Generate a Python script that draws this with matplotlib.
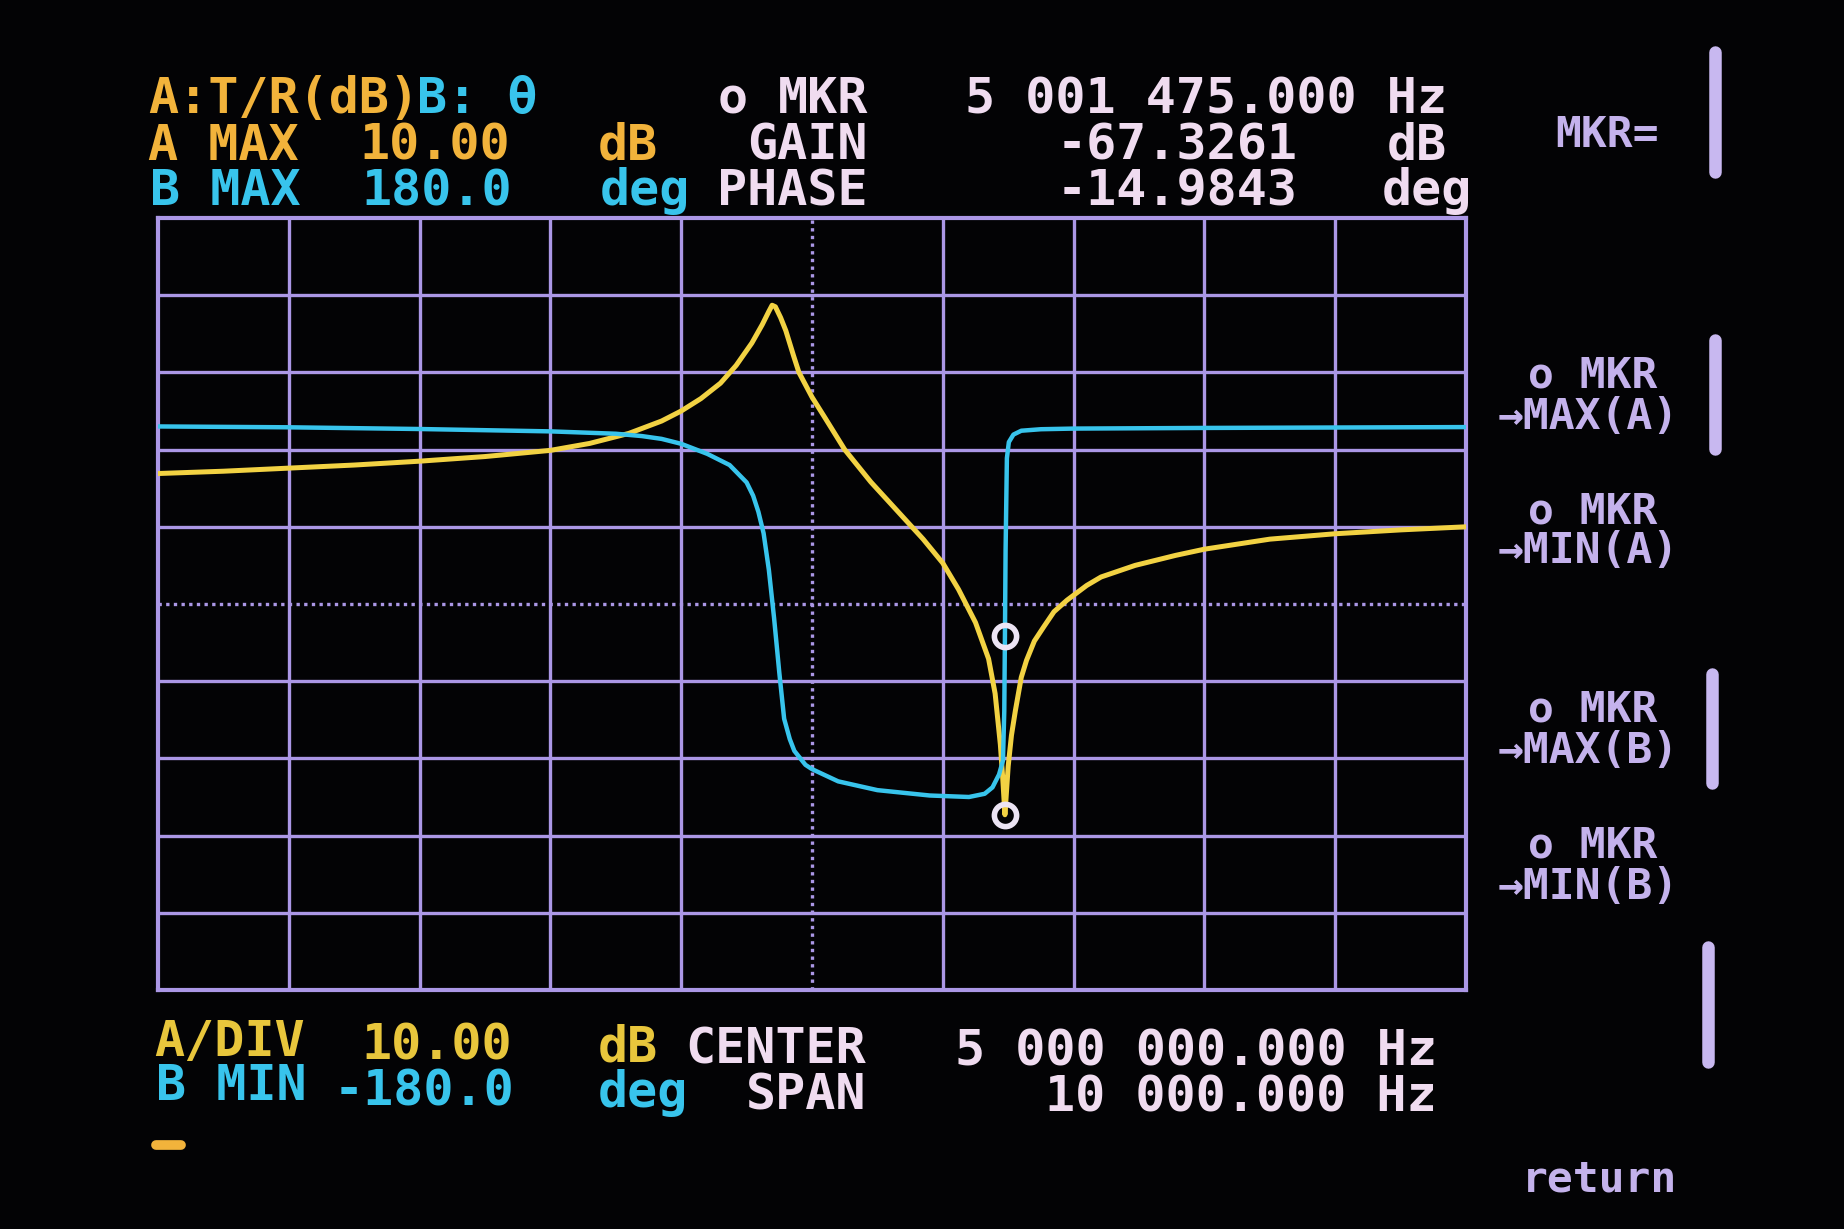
import numpy as np
import matplotlib
matplotlib.use("Agg")
import matplotlib.pyplot as plt
from matplotlib.lines import Line2D

W, H = 1844, 1229

CENTER_HZ = 5000000.0
SPAN_HZ = 10000.0
a_max_db = 10.00
a_div_db = 10.00
b_max_deg = 180.0
b_min_deg = -180.0

# trace A: T/R gain, offsets from centre frequency (Hz)
gain_offset_hz = [-5000, -4500, -4000, -3500, -3000, -2500, -2000, -1700, -1400, -1150,
                  -1000, -850, -700, -580, -460, -380, -330, -305, -280, -240,
                  -200, -140, -100, -50, 0, 100, 250, 450, 650, 850,
                  1000, 1120, 1250, 1350, 1400, 1440, 1458, 1475, 1500, 1525,
                  1555, 1600, 1640, 1700, 1770, 1850, 1950, 2100, 2210, 2470,
                  2780, 3000, 3500, 4000, 4500, 5000]
gain_db = [-23.1, -22.8, -22.4, -22.0, -21.5, -20.9, -20.1, -19.2, -17.9, -16.3,
           -15.0, -13.4, -11.4, -9.1, -6.2, -3.8, -2.1, -1.3, -1.5, -2.9,
           -4.6, -7.9, -10.0, -11.6, -13.2, -15.9, -20.0, -24.2, -27.9, -31.6,
           -34.7, -38.1, -42.4, -47.1, -51.6, -58.2, -62.5, -67.3, -61.0, -57.0,
           -53.8, -49.5, -47.3, -44.8, -43.0, -41.0, -39.5, -37.6, -36.5, -35.0,
           -33.7, -32.9, -31.6, -30.9, -30.4, -30.0]

# trace B: phase
phase_offset_hz = [-5000, -4000, -3000, -2000, -1500, -1300, -1150, -1000, -800, -630,
                   -500, -450, -410, -370, -330, -290, -250, -213, -170, -135,
                   -50, 0, 200, 500, 900, 1200, 1320, 1380, 1430, 1460,
                   1470, 1475, 1480, 1490, 1505, 1540, 1600, 1750, 2000, 3000,
                   4000, 5000]
phase_deg = [82.8, 82.4, 81.6, 80.5, 79.4, 78.3, 77.0, 74.7, 70.0, 64.8,
             56.7, 50.5, 43.0, 33.0, 16.0, -6.5, -32.0, -53.5, -63.0, -68.5,
             -75.0, -77.0, -82.7, -86.8, -89.3, -90.0, -88.5, -85.5, -79.5, -73.0,
             -50.0, -15.0, 25.0, 68.0, 75.5, 79.0, 80.8, 81.5, 81.8, 82.1,
             82.3, 82.5]

marker_hz = 5001475.000
marker_gain_db = -67.3261
marker_phase_deg = -14.9843

BG = "#030305"
GRID = "#ab97e6"
YEL = "#f2d243"
CYAN = "#38c4ec"
ORANGE = "#f2b33b"
YEL2 = "#e8c63c"
WHITE = "#f0dcf0"
MENU = "#c4b2ec"
BAR = "#c8b8f0"


def fx(x):
    return x / W


def fy(y):
    return 1 - y / H


fig = plt.figure(figsize=(W / 100, H / 100), dpi=100, facecolor=BG)

left, right, top, bottom = 158, 1466, 218, 990
ax = fig.add_axes([fx(left), fy(bottom), (right - left) / W, (bottom - top) / H])
ax.set_facecolor(BG)
f0 = CENTER_HZ - SPAN_HZ / 2
f1 = CENTER_HZ + SPAN_HZ / 2
ax.set_xlim(f0, f1)
ax.set_ylim(a_max_db - 10 * a_div_db, a_max_db)
ax.set_xticks([])
ax.set_yticks([])
for s in ax.spines.values():
    s.set_color(GRID)
    s.set_linewidth(3)

for i in range(1, 10):
    ls = (0, (1, 1.3)) if i == 5 else "-"
    ax.axvline(f0 + i * SPAN_HZ / 10, color=GRID, lw=2.4, ls=ls, zorder=1)
    ax.axhline(a_max_db - i * a_div_db, color=GRID, lw=2.4, ls=ls, zorder=1)

freq_a = CENTER_HZ + np.array(gain_offset_hz)
ax.plot(freq_a, gain_db, color=YEL, lw=3.6, zorder=3, solid_joinstyle="round")

ax2 = ax.twinx()
ax2.set_ylim(b_min_deg, b_max_deg)
ax2.set_yticks([])
for s in ax2.spines.values():
    s.set_visible(False)
freq_b = CENTER_HZ + np.array(phase_offset_hz)
ax2.plot(freq_b, phase_deg, color=CYAN, lw=3.2, zorder=3, solid_joinstyle="round")

# markers
ax2.plot([marker_hz], [marker_gain_db], transform=ax.transData, marker="o", ms=16,
         mfc="none", mec="#ece4f4", mew=4, zorder=5)
ax2.plot([marker_hz], [marker_phase_deg], marker="o", ms=16,
         mfc="none", mec="#ece4f4", mew=4, zorder=5)


def label(x, y, s, color, size=36, ha="left"):
    fig.text(fx(x), fy(y), s, color=color, fontsize=size, ha=ha, va="baseline",
             family=["DejaVu Sans Mono", "DejaVu Sans"], weight="bold")


def hz(v):
    return "{:,.3f}".format(v).replace(",", " ")


# header
label(148, 113, "A:T/R(dB)", ORANGE)
label(417, 113, "B: θ", CYAN)
label(718, 113, "o", WHITE)
label(868, 113, "MKR", WHITE, ha="right")
label(1447, 113, hz(marker_hz) + " Hz", WHITE, ha="right")

label(148, 160, "A MAX", ORANGE)
label(359, 160, "{:.2f}".format(a_max_db), ORANGE)
label(598, 160, "dB", ORANGE)
label(868, 160, "GAIN", WHITE, ha="right")
label(1057, 160, "{:.4f}".format(marker_gain_db), WHITE)
label(1447, 160, "dB", WHITE, ha="right")

label(150, 205, "B MAX", CYAN)
label(361, 205, "{:.1f}".format(b_max_deg), CYAN)
label(600, 205, "deg", CYAN)
label(868, 205, "PHASE", WHITE, ha="right")
label(1057, 205, "{:.4f}".format(marker_phase_deg), WHITE)
label(1472, 205, "deg", WHITE, ha="right")

# footer
label(154, 1056, "A/DIV", YEL2)
label(361, 1060, "{:.2f}".format(a_div_db), YEL2)
label(598, 1062, "dB", YEL2)
label(866, 1064, "CENTER", WHITE, ha="right")
label(1437, 1066, hz(CENTER_HZ) + " Hz", WHITE, ha="right")

label(156, 1100, "B MIN", CYAN)
label(334, 1105, "{:.1f}".format(b_min_deg), CYAN)
label(598, 1107, "deg", CYAN)
label(866, 1110, "SPAN", WHITE, ha="right")
label(1437, 1112, hz(SPAN_HZ) + " Hz", WHITE, ha="right")

fig.add_artist(Line2D([fx(156), fx(181)], [fy(1145), fy(1145)], color=ORANGE,
                      lw=7, solid_capstyle="round"))

# soft keys
label(1555, 147, "MKR=", MENU, size=31)
keys = [("o MKR", "→MAX(A)", 388, 429), ("o MKR", "→MIN(A)", 524, 563),
        ("o MKR", "→MAX(B)", 722, 763), ("o MKR", "→MIN(B)", 857, 899)]
for k1, k2, y1, y2 in keys:
    label(1528, y1, k1, MENU, size=31)
    label(1498, y2, k2, MENU, size=31)
label(1522, 1192, "return", MENU, size=31)

for x, y0, y1 in [(1715, 52, 172), (1715, 340, 449), (1712, 674, 783), (1708, 947, 1062)]:
    fig.add_artist(Line2D([fx(x), fx(x)], [fy(y0), fy(y1)], color=BAR, lw=9,
                          solid_capstyle="round"))

fig.savefig("out.png", dpi=100, facecolor=BG)
